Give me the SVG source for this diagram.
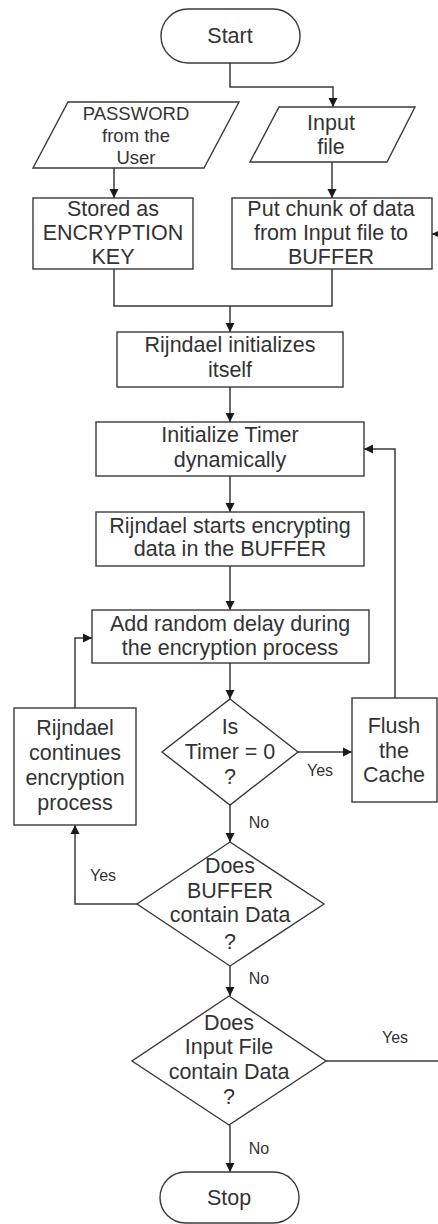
<svg xmlns="http://www.w3.org/2000/svg" width="438" height="1224" viewBox="0 0 438 1224">
<style>
.s{fill:#fff;stroke:#3a3a3a;stroke-width:1.4}
.c{fill:none;stroke:#3a3a3a;stroke-width:1.5}
text{font-family:"Liberation Sans",Arial,sans-serif;font-size:21.5px;fill:#333;text-anchor:middle;dominant-baseline:central}
.sm{font-size:18.5px}
.l{font-size:16px}
</style>
<defs>
<marker id="a" markerUnits="userSpaceOnUse" markerWidth="10" markerHeight="10" refX="9" refY="5" orient="auto">
<path d="M0,0.5 L9,5 L0,9.5 Z" fill="#1a1a1a"/>
</marker>
</defs>
<rect width="438" height="1224" fill="#fff"/>
<g id="connectors">
<path class="c" d="M230,63 V87 H333 V107" marker-end="url(#a)"/>
<path class="c" d="M114,168 V198" marker-end="url(#a)"/>
<path class="c" d="M332,162 V198" marker-end="url(#a)"/>
<path class="c" d="M114,269 V306 H332 V269"/>
<path class="c" d="M230,306 V332" marker-end="url(#a)"/>
<path class="c" d="M230,387 V422" marker-end="url(#a)"/>
<path class="c" d="M230,476 V512" marker-end="url(#a)"/>
<path class="c" d="M230,566 V610" marker-end="url(#a)"/>
<path class="c" d="M230,663 V699" marker-end="url(#a)"/>
<path class="c" d="M298,752 H352" marker-end="url(#a)"/>
<path class="c" d="M395,698 V449 H364" marker-end="url(#a)"/>
<path class="c" d="M230,805 V842" marker-end="url(#a)"/>
<path class="c" d="M137,904 H75 V825" marker-end="url(#a)"/>
<path class="c" d="M75,708 V638 H92" marker-end="url(#a)"/>
<path class="c" d="M230,966 V996" marker-end="url(#a)"/>
<path class="c" d="M326,1061 H441 V234 H432" marker-end="url(#a)"/>
<path class="c" d="M230,1125 V1172" marker-end="url(#a)"/>
<text class="l" x="320" y="770">Yes</text>
<text class="l" x="259" y="822">No</text>
<text class="l" x="103" y="875">Yes</text>
<text class="l" x="259" y="978">No</text>
<text class="l" x="395" y="1037">Yes</text>
<text class="l" x="259" y="1148">No</text>
</g>
<g id="start">
<rect class="s" x="161" y="9" width="139" height="54" rx="27"/>
<text x="230" y="36">Start</text>
</g>
<g id="password">
<path class="s" d="M68,102 H239 L204,168 H33 Z"/>
<text class="sm" x="136" y="113">PASSWORD</text>
<text class="sm" x="136" y="135">from the</text>
<text class="sm" x="136" y="157">User</text>
</g>
<g id="inputfile">
<path class="s" d="M279,107 H415 L387,162 H250 Z"/>
<text x="331" y="123">Input</text>
<text x="331" y="147">file</text>
</g>
<g id="stored">
<rect class="s" x="33" y="198" width="160" height="71"/>
<text x="113" y="209">Stored as</text>
<text x="113" y="233">ENCRYPTION</text>
<text x="113" y="257">KEY</text>
</g>
<g id="putchunk">
<rect class="s" x="232" y="198" width="200" height="71"/>
<text x="331" y="209">Put chunk of data</text>
<text x="331" y="233">from Input file to</text>
<text x="331" y="257">BUFFER</text>
</g>
<g id="rinit">
<rect class="s" x="117" y="332" width="226" height="55"/>
<text x="230" y="345">Rijndael initializes</text>
<text x="230" y="370">itself</text>
</g>
<g id="timer">
<rect class="s" x="96" y="422" width="268" height="54"/>
<text x="230" y="435">Initialize Timer</text>
<text x="230" y="460">dynamically</text>
</g>
<g id="rstart">
<rect class="s" x="96" y="512" width="268" height="54"/>
<text x="230" y="526">Rijndael starts encrypting</text>
<text x="230" y="549">data in the BUFFER</text>
</g>
<g id="delay">
<rect class="s" x="92" y="610" width="277" height="53"/>
<text x="230" y="624">Add random delay during</text>
<text x="230" y="648">the encryption process</text>
</g>
<g id="istimer">
<path class="s" d="M230,699 L298,752 L230,805 L162,752 Z"/>
<text x="230" y="727">Is</text>
<text x="230" y="752">Timer = 0</text>
<text x="230" y="777">?</text>
</g>
<g id="flush">
<rect class="s" x="352" y="698" width="85" height="104"/>
<text x="394" y="726">Flush</text>
<text x="394" y="751">the</text>
<text x="394" y="775">Cache</text>
</g>
<g id="continues">
<rect class="s" x="14" y="708" width="122" height="117"/>
<text x="75" y="728">Rijndael</text>
<text x="75" y="753">continues</text>
<text x="75" y="778">encryption</text>
<text x="75" y="803">process</text>
</g>
<g id="buffer">
<path class="s" d="M230,842 L324,904 L230,966 L137,904 Z"/>
<text x="230" y="866">Does</text>
<text x="230" y="891">BUFFER</text>
<text x="230" y="915">contain Data</text>
<text x="230" y="942">?</text>
</g>
<g id="inputdata">
<path class="s" d="M229,996 L326,1061 L229,1125 L132,1061 Z"/>
<text x="229" y="1023">Does</text>
<text x="229" y="1047">Input File</text>
<text x="229" y="1072">contain Data</text>
<text x="229" y="1097">?</text>
</g>
<g id="stop">
<rect class="s" x="160" y="1172" width="139" height="51" rx="25.5"/>
<text x="229" y="1198">Stop</text>
</g>
</svg>
